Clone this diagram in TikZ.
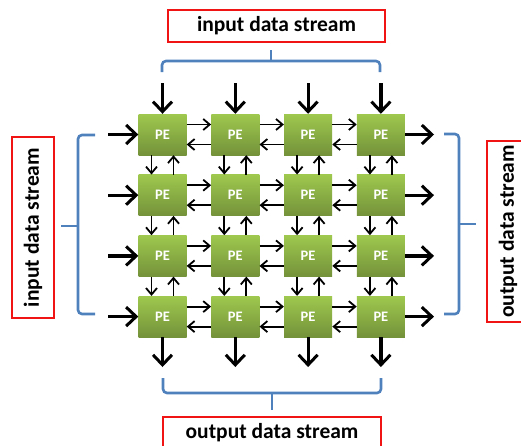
\documentclass[tikz,border=0pt]{standalone}
\usepackage{fontspec}
\setmainfont{Carlito}
\usetikzlibrary{arrows.meta}
\definecolor{bracecol}{RGB}{79,129,189}
\definecolor{pelight}{RGB}{158,200,78}
\definecolor{pedark}{RGB}{116,146,58}
\definecolor{labelred}{RGB}{240,20,20}
\tikzset{
  pebox/.style={minimum width=48pt, minimum height=41pt, inner sep=0pt,
    top color=pelight, bottom color=pedark, draw=none,
    text=white, font=\fontsize{14.5}{16}\selectfont\bfseries},
  bigarrow/.style={line width=3.2pt, -{Straight Barb[length=10pt,width=19pt,line width=3pt]}},
  smallarrow/.style={line width=1.8pt, -{Straight Barb[length=6.5pt,width=11pt,line width=1.8pt]}},
  bracket/.style={draw=bracecol, line width=2.6pt, rounded corners=4pt},
  labelbox/.style={draw=labelred, line width=1.4pt, inner sep=0pt,
    font=\fontsize{21.5}{24}\selectfont\bfseries}
}
\begin{document}
\begin{tikzpicture}[x=1pt,y=-1pt]
\clip (0,0) rectangle (521,445);
\fill[white] (0,0) rectangle (521,445);
% PE grid
\foreach \i in {1,...,4}{
  \foreach \j in {1,...,4}{
    \node[pebox] (pe\i\j) at ({162.5+72.8*(\j-1)},{134.5+60.7*(\i-1)}) {PE};
  }
}
% horizontal thin arrows
\foreach \i in {1,...,4}{
  \foreach \j/\k in {1/2,2/3,3/4}{
    \draw[smallarrow] ([yshift=10pt]pe\i\j.east) -- ([yshift=10pt]pe\i\k.west);
    \draw[smallarrow] ([yshift=-10pt]pe\i\k.west) -- ([yshift=-10pt]pe\i\j.east);
  }
}
% vertical thin arrows
\foreach \j in {1,...,4}{
  \foreach \i/\k in {1/2,2/3,3/4}{
    \draw[smallarrow] ([xshift=-11pt]pe\i\j.south) -- ([xshift=-11pt]pe\k\j.north);
    \draw[smallarrow] ([xshift=11pt]pe\k\j.north) -- ([xshift=11pt]pe\i\j.south);
  }
}
% input / output thick arrows
\foreach \j in {1,...,4}{
  \coordinate (top\j) at ({162.5+72.8*(\j-1)},83);
  \coordinate (bot\j) at ({162.5+72.8*(\j-1)},367);
  \draw[bigarrow] (top\j) -- (pe1\j.north);
  \draw[bigarrow] (pe4\j.south) -- (bot\j);
}
\foreach \i in {1,...,4}{
  \coordinate (lft\i) at (108,{134.5+60.7*(\i-1)});
  \coordinate (rgt\i) at (434,{134.5+60.7*(\i-1)});
  \draw[bigarrow] (lft\i) -- (pe\i1.west);
  \draw[bigarrow] (pe\i4.east) -- (rgt\i);
}
% brackets
\draw[bracket] (162,72) -- (162,61) -- (380,61) -- (380,72);
\draw[bracket] (271,61) -- (271,50);
\draw[bracket] (95,135) -- (78,135) -- (78,314) -- (95,314);
\draw[bracket] (78,226) -- (61,226);
\draw[bracket] (444,134) -- (459,134) -- (459,314) -- (444,314);
\draw[bracket] (459,224) -- (476,224);
\draw[bracket] (163,378) -- (163,393) -- (381,393) -- (381,378);
\draw[bracket] (272,393) -- (272,410);
% labels
\node[labelbox, minimum width=217pt, minimum height=32pt] (lbltop) at (276.5,26) {input data stream};
\node[labelbox, minimum width=181pt, minimum height=42pt, rotate=90] (lblleft) at (33,227.5) {input data stream};
\node[labelbox, minimum width=181pt, minimum height=42pt, rotate=90] (lblright) at (508,231.5) {output data stream};
\node[labelbox, minimum width=218pt, minimum height=32pt] (lblbot) at (272,433) {output data stream};
\end{tikzpicture}
\end{document}
